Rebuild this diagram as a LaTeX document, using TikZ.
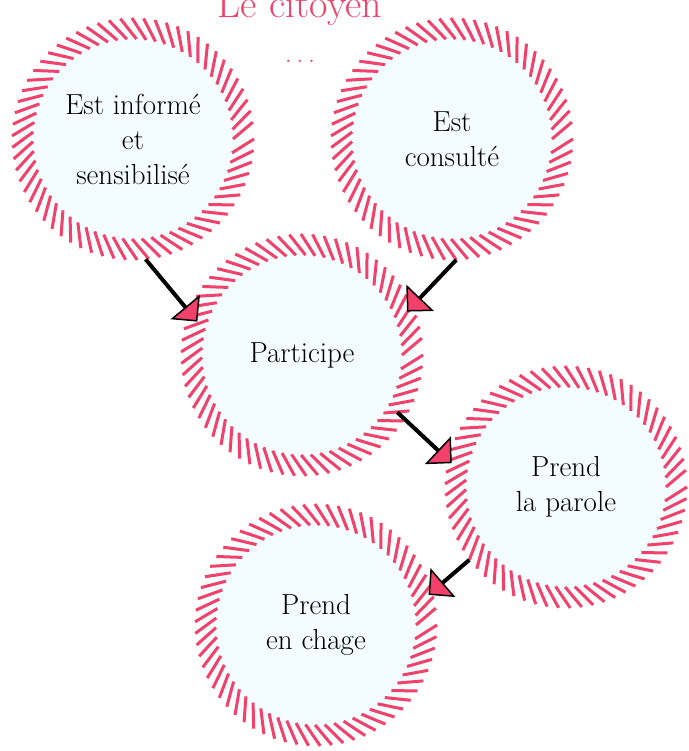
\documentclass[tikz,border=0pt]{standalone}
\usetikzlibrary{arrows.meta, calc}
\definecolor{ropepink}{HTML}{F2416A}
\definecolor{bubblecyan}{HTML}{F3FCFE}
\tikzset{%
  bubble/.style={
    circle,
    fill=bubblecyan,
    minimum size=228pt,
    inner sep=0pt,
    outer sep=7pt,
    align=center,
    font=\fontsize{29}{35}\selectfont
  },
  hatch/.style={
    draw=ropepink,
    line width=3pt
  },
  flow/.style={
    -{Triangle[length=19pt, width=38pt, line width=1.5pt, fill=ropepink]},
    line width=4pt
  }
}

\begin{document}
\begin{tikzpicture}[x=1pt, y=1pt]
		\useasboundingbox (0,0) rectangle (688,751);
		% title
		\node[text=ropepink, font=\fontsize{40}{44}\selectfont, anchor=base] (title) at (300,733) {Le citoyen};
		\node[text=ropepink, font=\fontsize{28}{28}\selectfont, anchor=base] (dots) at (300,688) {.\,.\,.};
		% bubbles
		\node[bubble] (c1) at (133,612) {Est informé\\et\\sensibilisé};
		\node[bubble] (c2) at (452,612) {Est\\consulté};
		\node[bubble] (c3) at (302,396) {Participe};
		\node[bubble] (c4) at (566,264) {Prend\\la parole};
		\node[bubble] (c5) at (316,126) {Prend\\en chage};
		% hatched rings
		\foreach \n in {c1,c2,c3,c4,c5}
			\foreach \a in {0,5.5,...,354}
				\draw[hatch] ($(\n.center)+(\a:100)$) -- ($(\n.center)+(\a+8:121)$);
		% connections
		\draw[flow, shorten >=-13pt] (c1.-84) -- (c3.159);
		\draw[flow, shorten >=-8pt] (c2.-88) -- (c3.24);
		\draw[flow, shorten <=-10pt, shorten >=-5pt] (c3.-32) -- (c4.167);
		\draw[flow, shorten >=-5pt] (c4.-143) -- (c5.16);
	\end{tikzpicture}
\end{document}
